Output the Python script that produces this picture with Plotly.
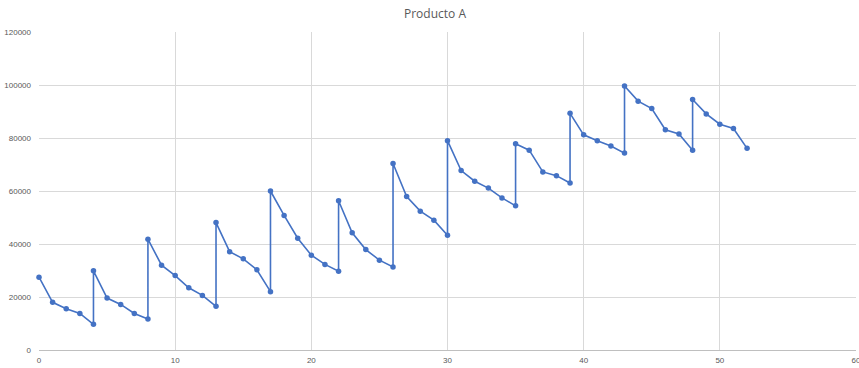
import plotly.graph_objects as go

periods = [0, 1, 2, 3, 4, 4, 5, 6, 7, 8, 8, 9, 10, 11, 12, 13, 13, 14, 15, 16, 17, 17,
           18, 19, 20, 21, 22, 22, 23, 24, 25, 26, 26, 27, 28, 29, 30, 30, 31, 32, 33, 34,
           35, 35, 36, 37, 38, 39, 39, 40, 41, 42, 43, 43, 44, 45, 46, 47, 48, 48, 49, 50,
           51, 52]
sales = [27500, 18000, 15600, 13800, 9700, 29900, 19600, 17200, 13800, 11700, 41800,
         32000, 28100, 23500, 20600, 16500, 48100, 37100, 34400, 30300, 22000, 60000,
         50800, 42200, 35800, 32300, 29700, 56300, 44200, 37900, 33900, 31300, 70400,
         57900, 52400, 49000, 43300, 79000, 67700, 63700, 61100, 57400, 54400, 77800,
         75400, 67200, 65800, 63000, 89300, 81200, 79000, 77000, 74300, 99600, 93900,
         91100, 83100, 81500, 75400, 94500, 89100, 85200, 83600, 76100]

title_text = "Producto A"

fig = go.Figure()
fig.add_trace(go.Scatter(
    x=periods, y=sales, mode="lines+markers",
    line=dict(color="#4472C4", width=1.6),
    marker=dict(color="#4472C4", size=5.5),
    cliponaxis=False,
    showlegend=False,
))

axis_font = dict(family="Liberation Sans, Arial, sans-serif", size=8, color="#595959")
fig.update_layout(
    width=859, height=368,
    margin=dict(l=39, r=3, t=32, b=18, autoexpand=False),
    paper_bgcolor="white", plot_bgcolor="white",
    title=dict(text=title_text, x=435 / 859, xanchor="center", y=1 - 13.5 / 368, yanchor="middle",
               font=dict(family="Open Sans, Liberation Sans, sans-serif", size=12, color="#595959")),
    xaxis=dict(range=[0, 60], dtick=10, tick0=0, showgrid=True, gridcolor="#d9d9d9",
               gridwidth=1, zeroline=False, showline=True, linecolor="#bfbfbf",
               ticks="", tickfont=axis_font, ticklabeloverflow="allow", ticklabelstandoff=2),
    yaxis=dict(range=[0, 120000], dtick=20000, tick0=0, showgrid=True, gridcolor="#d9d9d9",
               gridwidth=1, zeroline=False, showline=False, ticks="", tickformat="d",
               tickfont=axis_font, ticklabelstandoff=7),
)

fig.write_html("out.html",
               config={"displayModeBar": False},
               post_script="document.body.style.margin='0';document.body.style.overflow='hidden';")
